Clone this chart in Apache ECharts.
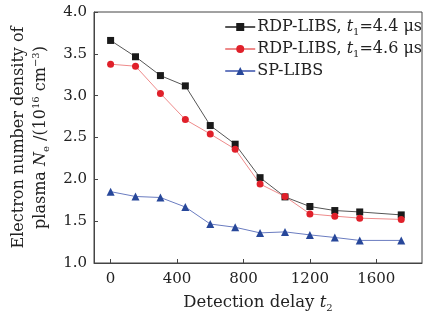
<!DOCTYPE html>
<html><head><meta charset="utf-8">
<script src="https://cdn.jsdelivr.net/npm/echarts@6/dist/echarts.min.js"></script>
<style>html,body{margin:0;padding:0;background:#fff}#c{width:432px;height:318px}</style>
</head><body><div id="c"></div>
<script>
const delays = [0,150,300,450,600,750,900,1050,1200,1350,1500,1750];
const rdp44 = [3.66,3.465,3.24,3.117,2.643,2.42,2.02,1.79,1.675,1.627,1.61,1.575];
const rdp46 = [3.376,3.352,3.027,2.714,2.542,2.361,1.944,1.795,1.587,1.56,1.536,1.521];
const sp = [1.853,1.795,1.783,1.669,1.466,1.427,1.36,1.372,1.336,1.305,1.27,1.27];
const xTicks = [0,400,800,1200,1600];
const yTicks = [1.0,1.5,2.0,2.5,3.0,3.5,4.0];
const names = ['RDP-LIBS, t1=4.4 μs','RDP-LIBS, t1=4.6 μs','SP-LIBS'];

const FONT = 'DejaVu Serif';
const chart = echarts.init(document.getElementById('c'));
const pair = (xs, ys) => xs.map((x,i)=>[x, ys[i]]);
const mk = (fs) => ({
  n:{fontFamily:FONT,fontSize:fs,color:'#222'},
  i:{fontFamily:FONT,fontSize:fs,fontStyle:'italic',color:'#222'},
  sb:{fontFamily:FONT,fontSize:Math.round(fs*0.6),color:'#222',padding:[10,0,0,0]},
  sp:{fontFamily:FONT,fontSize:Math.round(fs*0.6),color:'#222',padding:[0,0,9,0]}
});
chart.setOption({
  animation:false,
  grid:{left:82,right:10,top:12,bottom:53,show:true,borderColor:'#444',borderWidth:1},
  legend:{
    right:5, top:14, orient:'vertical', itemGap:4, itemWidth:30, itemHeight:10,
    data:names,
    formatter:function(n){
      if(n===names[0]) return '{n|RDP-LIBS, }{i|t}{sb|1}{n|=4.4 μs}';
      if(n===names[1]) return '{n|RDP-LIBS, }{i|t}{sb|1}{n|=4.6 μs}';
      return '{n|SP-LIBS}';
    },
    textStyle:{rich:mk(16), padding:[0,0,0,-3]}
  },
  xAxis:{
    type:'value', min:-100, max:1875,
    axisLine:{onZero:false, lineStyle:{color:'#444'}},
    axisTick:{inside:true, length:4, customValues:xTicks, lineStyle:{color:'#444'}},
    axisLabel:{customValues:xTicks, fontFamily:FONT, fontSize:15, color:'#222', margin:9, formatter:v=>String(v)},
    splitLine:{show:false},
    name:'{n|Detection delay }{i|t}{sb|2}', nameLocation:'middle', nameGap:30,
    nameTextStyle:{rich:mk(16.5)}
  },
  yAxis:{
    type:'value', min:1, max:4, interval:0.5,
    axisLine:{onZero:false, lineStyle:{color:'#444'}},
    axisTick:{inside:true, length:4, lineStyle:{color:'#444'}},
    axisLabel:{fontFamily:FONT, fontSize:15, color:'#222', margin:7, formatter:v=>v.toFixed(1)},
    splitLine:{show:false},
    name:'{n|Electron number density of}\n{n|plasma }{i|N}{sb|e}{n| /(10}{sp|16}{n| cm}{sp|−3}{n|)}',
    nameLocation:'middle', nameRotate:90, nameGap:42,
    nameTextStyle:{rich:mk(16), lineHeight:22}
  },
  series:[
    {name:names[0], type:'line', data:pair(delays,rdp44), symbol:'rect', symbolSize:7,
     lineStyle:{color:'#555',width:1}, itemStyle:{color:'#1a1a1a'}},
    {name:names[1], type:'line', data:pair(delays,rdp46), symbol:'circle', symbolSize:7,
     lineStyle:{color:'#ee8a8a',width:1}, itemStyle:{color:'#e0202a'}},
    {name:names[2], type:'line', data:pair(delays,sp), symbol:'triangle', symbolSize:8,
     lineStyle:{color:'#6a7cc0',width:1}, itemStyle:{color:'#27479a'}}
  ]
});
</script></body></html>
